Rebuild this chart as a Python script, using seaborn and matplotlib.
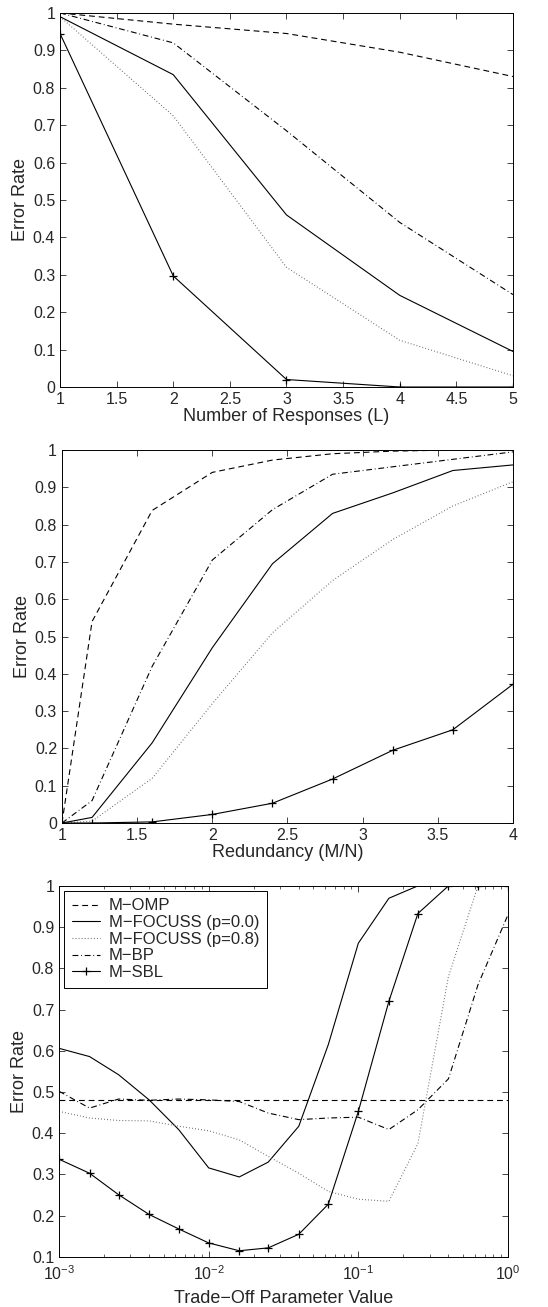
import numpy as np
import pandas as pd
import matplotlib
matplotlib.use("Agg")
import matplotlib.pyplot as plt
import seaborn as sns
from matplotlib.ticker import FuncFormatter

# data
names = ["M\u2212OMP", "M\u2212FOCUSS (p=0.0)", "M\u2212FOCUSS (p=0.8)", "M\u2212BP", "M\u2212SBL"]

# panel 1: number of responses
resp_x = [1, 2, 3, 4, 5]
resp_omp = [1.0, 0.97, 0.945, 0.895, 0.83]
resp_foc0 = [0.99, 0.835, 0.46, 0.245, 0.095]
resp_foc8 = [0.99, 0.725, 0.32, 0.125, 0.03]
resp_bp = [1.0, 0.92, 0.685, 0.44, 0.247]
resp_sbl = [0.945, 0.297, 0.02, 0.0, 0.0]

# panel 2: redundancy
red_x = [1.0, 1.2, 1.6, 2.0, 2.4, 2.8, 3.2, 3.6, 4.0]
red_omp = [0.0, 0.54, 0.838, 0.94, 0.973, 0.99, 0.997, 1.0, 1.0]
red_foc0 = [0.0, 0.015, 0.215, 0.47, 0.695, 0.83, 0.885, 0.945, 0.96]
red_foc8 = [0.0, 0.005, 0.12, 0.32, 0.51, 0.65, 0.76, 0.85, 0.915]
red_bp = [0.0, 0.06, 0.42, 0.705, 0.84, 0.935, 0.955, 0.975, 0.995]
red_sbl = [0.0, 0.0, 0.003, 0.023, 0.053, 0.118, 0.195, 0.25, 0.372]

# panel 3: trade-off parameter
lam_x = [0.001, 0.0016, 0.0025, 0.004, 0.0063, 0.01, 0.016, 0.025,
         0.04, 0.063, 0.1, 0.16, 0.25, 0.4, 0.63, 1.0]
lam_omp = [0.48] * 16
lam_foc0 = [0.606, 0.586, 0.542, 0.481, 0.409, 0.316, 0.294, 0.33,
            0.417, 0.615, 0.861, 0.97, 1.0, 1.0, 1.0, 1.0]
lam_foc8 = [0.453, 0.437, 0.431, 0.43, 0.417, 0.406, 0.384, 0.344,
            0.303, 0.259, 0.24, 0.235, 0.375, 0.78, 1.0, 1.0]
lam_bp = [0.502, 0.461, 0.483, 0.48, 0.483, 0.481, 0.477, 0.449,
          0.433, 0.437, 0.439, 0.409, 0.457, 0.532, 0.76, 0.93]
lam_sbl = [0.337, 0.303, 0.251, 0.203, 0.168, 0.134, 0.115, 0.122,
           0.155, 0.228, 0.453, 0.72, 0.933, 1.0, 1.0, 1.0]

sns.set_style("ticks")
plt.rcParams["font.family"] = ["Liberation Sans", "DejaVu Sans"]
plt.rcParams["lines.scale_dashes"] = False
plt.rcParams["axes.linewidth"] = 0.7

styles = [
    dict(linestyle=(0, (4.2, 2.8)), color="k", marker="None"),
    dict(linestyle="-", color="k", marker="None"),
    dict(linestyle=(0, (0.6, 1.6)), color="0.35", marker="None"),
    dict(linestyle=(0, (4.2, 2.0, 0.6, 2.0)), color="k", marker="None"),
    dict(linestyle="-", color="k", marker="+", markersize=5.5,
         markeredgewidth=0.9, markeredgecolor="k"),
]

fig = plt.figure(figsize=(5.48, 13.07), dpi=100)
ax1 = fig.add_axes([0.1095, 0.7039, 0.8266, 0.2862])
ax2 = fig.add_axes([0.1131, 0.3703, 0.8230, 0.2854])
ax3 = fig.add_axes([0.1077, 0.0383, 0.8193, 0.2839])


def draw(ax, x, series, log=False):
    for name, y, st in zip(names, series, styles):
        df = pd.DataFrame({"x": x, "y": y})
        sns.lineplot(data=df, x="x", y="y", ax=ax, label=name,
                     errorbar=None, legend=False)
        ln = ax.lines[-1]
        ln.set_linewidth(0.8)
        ln.set(**st)
    if log:
        ax.set_xscale("log")
    ax.tick_params(direction="in", top=True, right=True, length=4,
                   width=0.6, labelsize=11.5, pad=3.5)
    ax.tick_params(which="minor", direction="in", top=True, right=True,
                   length=2.2, width=0.5)
    for s in ax.spines.values():
        s.set_color("k")
    ax.set_ylabel("Error Rate", fontsize=13, labelpad=3)
    ax.yaxis.set_major_formatter(FuncFormatter(lambda v, p: "%g" % round(v, 3)))


draw(ax1, resp_x, [resp_omp, resp_foc0, resp_foc8, resp_bp, resp_sbl])
ax1.set_xlim(1, 5)
ax1.set_ylim(0, 1)
ax1.set_xticks(np.arange(1, 5.01, 0.5))
ax1.set_yticks(np.arange(0, 1.01, 0.1))
ax1.xaxis.set_major_formatter(FuncFormatter(lambda v, p: "%g" % v))
ax1.set_xlabel("Number of Responses (L)", fontsize=13, labelpad=0.5)

draw(ax2, red_x, [red_omp, red_foc0, red_foc8, red_bp, red_sbl])
ax2.set_xlim(1, 4)
ax2.set_ylim(0, 1)
ax2.set_xticks(np.arange(1, 4.01, 0.5))
ax2.set_yticks(np.arange(0, 1.01, 0.1))
ax2.xaxis.set_major_formatter(FuncFormatter(lambda v, p: "%g" % v))
ax2.set_xlabel("Redundancy (M/N)", fontsize=13, labelpad=0.5)

draw(ax3, lam_x, [lam_omp, lam_foc0, lam_foc8, lam_bp, lam_sbl], log=True)
ax3.set_xlim(1e-3, 1)
ax3.set_ylim(0.1, 1)
ax3.set_yticks(np.arange(0.1, 1.01, 0.1))
ax3.tick_params(axis="x", pad=5)
ax3.set_xlabel("Trade\u2212Off Parameter Value", fontsize=13, labelpad=5)
leg = ax3.legend(loc="upper left", fontsize=12, frameon=True, fancybox=False,
                 edgecolor="k", framealpha=1, handlelength=1.7,
                 labelspacing=0.1, borderpad=0.45, handletextpad=0.55,
                 borderaxespad=0.3)
leg.get_frame().set_linewidth(0.7)

fig.savefig("out.png", dpi=100)
